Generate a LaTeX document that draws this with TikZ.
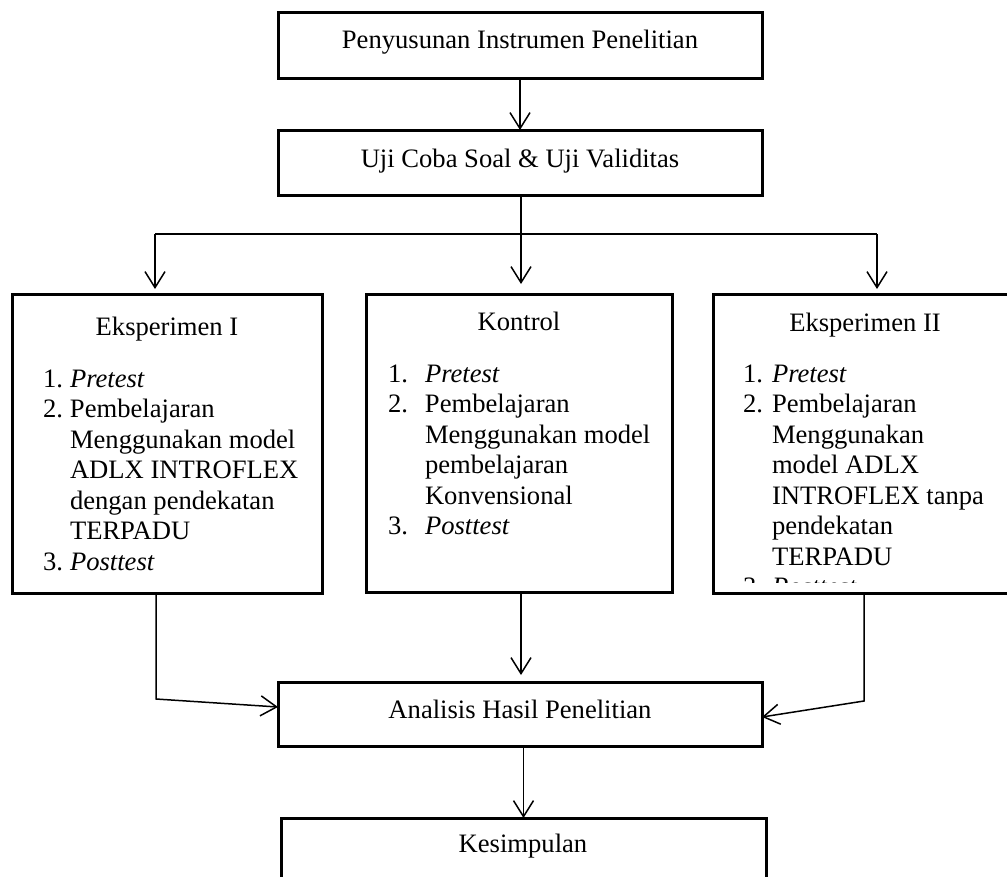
\documentclass[tikz,border=0pt]{standalone}
\usepackage{fontspec}
\setmainfont{Liberation Serif}
\usetikzlibrary{arrows.meta}
\newcommand{\itmA}[1]{\makebox[27pt][l]{#1}}
\newcommand{\itmB}[1]{\makebox[37pt][l]{#1}}
\newcommand{\itmC}[1]{\makebox[29pt][l]{#1}}
\begin{document}
\begin{tikzpicture}[x=1pt,y=-1pt,
  every node/.append style={font=\fontsize{26.6pt}{30.5pt}\selectfont},
  box/.style={draw, line width=3pt, inner sep=0pt, outer sep=0pt, anchor=north west},
  txt/.style={inner sep=0pt, outer sep=0pt, anchor=base},
  lst/.style={inner sep=0pt, outer sep=0pt, anchor=base west},
  conn/.style={line width=1.5pt, -{Straight Barb[length=16pt,width=20pt]}},
  line/.style={line width=1.5pt}]
\clip (0,0) rectangle (1007,876);
\fill[white] (0,0) rectangle (1007,876);
% boxes
\node[box, minimum width=484pt, minimum height=66pt] (p1) at (278,12) {};
\node[txt] (p1t) at (520,48) {Penyusunan Instrumen Penelitian};
\node[box, minimum width=484pt, minimum height=65pt] (p2) at (278,130) {};
\node[txt] (p2t) at (520,167) {Uji Coba Soal \& Uji Validitas};
\node[box, minimum width=310pt, minimum height=299pt] (e1) at (12,294) {};
\node[txt] (e1t) at (167,335) {Eksperimen I};
\node[lst] (e1l) at (43,387) {\renewcommand{\arraystretch}{1}\begin{tabular}[t]{@{}l@{}}
\itmA{1.}\textit{Pretest}\\
\itmA{2.}Pembelajaran\\
\itmA{}Menggunakan model\\
\itmA{}ADLX INTROFLEX\\
\itmA{}dengan pendekatan\\
\itmA{}TERPADU\\
\itmA{3.}\textit{Posttest}
\end{tabular}};
\node[box, minimum width=306pt, minimum height=298pt] (k) at (366,294) {};
\node[txt] (kt) at (519,330) {Kontrol};
\node[lst] (kl) at (388,382) {\renewcommand{\arraystretch}{1}\begin{tabular}[t]{@{}l@{}}
\itmB{1.}\textit{Pretest}\\
\itmB{2.}Pembelajaran\\
\itmB{}Menggunakan model\\
\itmB{}pembelajaran\\
\itmB{}Konvensional\\
\itmB{3.}\textit{Posttest}
\end{tabular}};
\node[box, minimum width=330pt, minimum height=299pt] (e2) at (713,294) {};
\node[txt] (e2t) at (865,331) {Eksperimen II};
\begin{scope}
\clip (713,294) rectangle (1007,582);
\node[lst] (e2l) at (743,382) {\renewcommand{\arraystretch}{1}\begin{tabular}[t]{@{}l@{}}
\itmC{1.}\textit{Pretest}\\
\itmC{2.}Pembelajaran\\
\itmC{}Menggunakan\\
\itmC{}model ADLX\\
\itmC{}INTROFLEX tanpa\\
\itmC{}pendekatan\\
\itmC{}TERPADU\\
\itmC{3.}\textit{Posttest}
\end{tabular}};
\end{scope}
\node[box, minimum width=484pt, minimum height=64pt] (a) at (278,682) {};
\node[txt] (at) at (520,718) {Analisis Hasil Penelitian};
\node[box, minimum width=485pt, minimum height=120pt] (s) at (281,818) {};
\node[txt] (st) at (523,852) {Kesimpulan};
% connectors
\coordinate (jc) at (521,234);
\coordinate (jl) at (155,234);
\coordinate (jr) at (877,234);
\coordinate (bl) at (156,699);
\coordinate (br) at (864,701);
\draw[conn] (p1.south) -- (p2.north);
\draw[line] (p2.south -| jc) -- (jc);
\draw[line] (jl) -- (jr);
\draw[conn, shorten >=5pt] (jl) -- (jl |- e1.north);
\draw[conn, shorten >=10pt] (jc) -- (jc |- k.north);
\draw[conn, shorten >=5pt] (jr) -- (jr |- e2.north);
\draw[conn, shorten >=7pt] (k.south -| jc) -- (a.north -| jc);
\draw[conn] (e1.south -| bl) -- (bl) -- ([yshift=7pt]a.west);
\draw[conn] (e2.south -| br) -- (br) -- ([yshift=-3pt]a.east);
\draw[conn] (a.south -| s.north) -- (s.north);
\end{tikzpicture}
\end{document}
